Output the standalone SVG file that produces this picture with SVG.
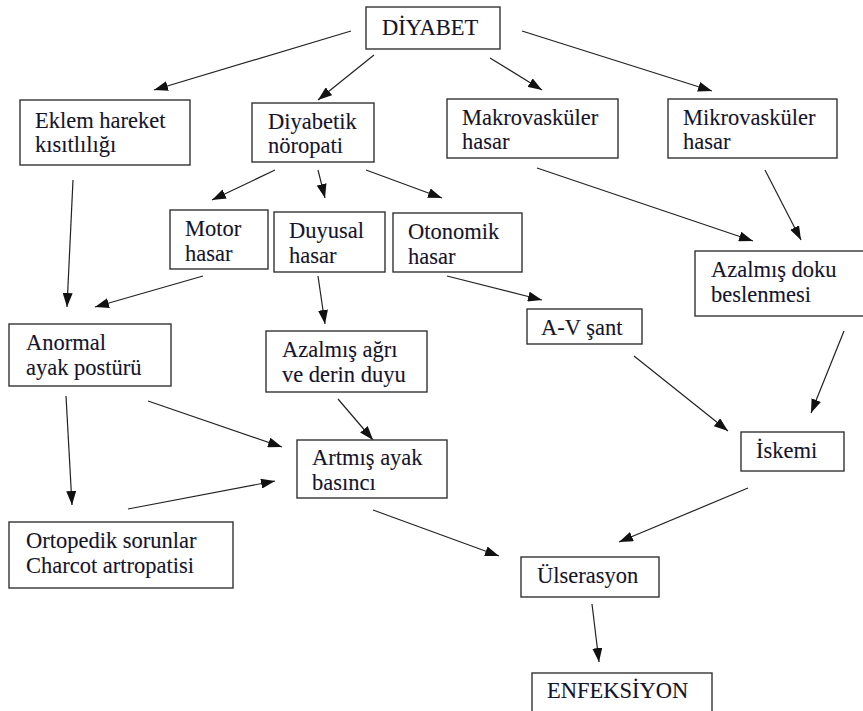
<svg xmlns="http://www.w3.org/2000/svg" width="863" height="711" viewBox="0 0 863 711">
<defs>
<marker id="ah" viewBox="0 0 14 10" refX="14" refY="5" markerWidth="14" markerHeight="10" markerUnits="userSpaceOnUse" orient="auto">
<path d="M0,0 L14,5 L0,10 z" fill="#111"/>
</marker>
<style>
rect{fill:#fff;stroke:#333;stroke-width:1.4}
text{font-size:22.5px;fill:#14142a;stroke:#14142a;stroke-width:0.1}
#edges line{stroke:#222;stroke-width:1.2;marker-end:url(#ah)}
</style>
</defs>
<rect x="0" y="0" width="863" height="711" style="fill:#fff;stroke:none"/>
<g id="edges">
<line x1="351" y1="31" x2="154" y2="90"/>
<line x1="374" y1="55" x2="318" y2="100"/>
<line x1="490" y1="58" x2="542" y2="90"/>
<line x1="522" y1="31" x2="712" y2="91"/>
<line x1="275" y1="170" x2="212" y2="200"/>
<line x1="318" y1="170" x2="325" y2="198"/>
<line x1="366" y1="170" x2="442" y2="198"/>
<line x1="73" y1="180" x2="67" y2="307"/>
<line x1="203" y1="276" x2="95" y2="307"/>
<line x1="318" y1="276" x2="325" y2="324"/>
<line x1="447" y1="276" x2="542" y2="300"/>
<line x1="537" y1="168" x2="753" y2="241"/>
<line x1="765" y1="170" x2="801" y2="240"/>
<line x1="634" y1="356" x2="728" y2="431"/>
<line x1="844" y1="331" x2="811" y2="413"/>
<line x1="66" y1="396" x2="72" y2="505"/>
<line x1="148" y1="401" x2="282" y2="447"/>
<line x1="338" y1="399" x2="373" y2="440"/>
<line x1="128" y1="509" x2="275" y2="481"/>
<line x1="373" y1="510" x2="499" y2="556"/>
<line x1="748" y1="488" x2="619" y2="542"/>
<line x1="592" y1="604" x2="599" y2="662"/>
</g>
<g font-family="'Liberation Serif', 'DejaVu Serif', serif">
<g id="diyabet"><rect x="366" y="7" width="134" height="42"/><text x="382" y="35">DİYABET</text></g>
<g id="eklem"><rect x="20" y="100" width="170" height="65"/><text x="35" y="128">Eklem hareket<tspan x="35" dy="24">kısıtlılığı</tspan></text></g>
<g id="noropati"><rect x="252" y="103" width="122" height="59"/><text x="268" y="129">Diyabetik<tspan x="268" dy="24">nöropati</tspan></text></g>
<g id="makro"><rect x="447" y="99" width="171" height="59"/><text x="462" y="125">Makrovasküler<tspan x="462" dy="24">hasar</tspan></text></g>
<g id="mikro"><rect x="668" y="99" width="169" height="59"/><text x="683" y="125">Mikrovasküler<tspan x="683" dy="24">hasar</tspan></text></g>
<g id="motor"><rect x="170" y="210" width="98" height="59"/><text x="185" y="236">Motor<tspan x="185" dy="25">hasar</tspan></text></g>
<g id="duyusal"><rect x="274" y="212" width="111" height="60"/><text x="289" y="238">Duyusal<tspan x="289" dy="25">hasar</tspan></text></g>
<g id="otonomik"><rect x="393" y="213" width="129" height="59"/><text x="408" y="239">Otonomik<tspan x="408" dy="25">hasar</tspan></text></g>
<g id="doku"><rect x="695" y="251" width="172" height="65"/><text x="711" y="277">Azalmış doku<tspan x="711" dy="25">beslenmesi</tspan></text></g>
<g id="anormal"><rect x="9" y="324" width="162" height="62"/><text x="26" y="350">Anormal<tspan x="26" dy="25">ayak postürü</tspan></text></g>
<g id="agri"><rect x="266" y="331" width="161" height="61"/><text x="282" y="357">Azalmış ağrı<tspan x="282" dy="25">ve derin duyu</tspan></text></g>
<g id="avsant"><rect x="527" y="309" width="115" height="35"/><text x="541" y="335">A-V şant</text></g>
<g id="artmis"><rect x="297" y="440" width="150" height="58"/><text x="312" y="465">Artmış ayak<tspan x="312" dy="25">basıncı</tspan></text></g>
<g id="iskemi"><rect x="741" y="432" width="103" height="39"/><text x="756" y="458">İskemi</text></g>
<g id="ortopedik"><rect x="9" y="522" width="224" height="66"/><text x="26" y="548">Ortopedik sorunlar<tspan x="26" dy="25">Charcot artropatisi</tspan></text></g>
<g id="ulserasyon"><rect x="521" y="557" width="138" height="40"/><text x="537" y="583">Ülserasyon</text></g>
<g id="enfeksiyon"><rect x="532" y="673" width="180" height="50"/><text x="547" y="698">ENFEKSİYON</text></g>
</g>
</svg>
